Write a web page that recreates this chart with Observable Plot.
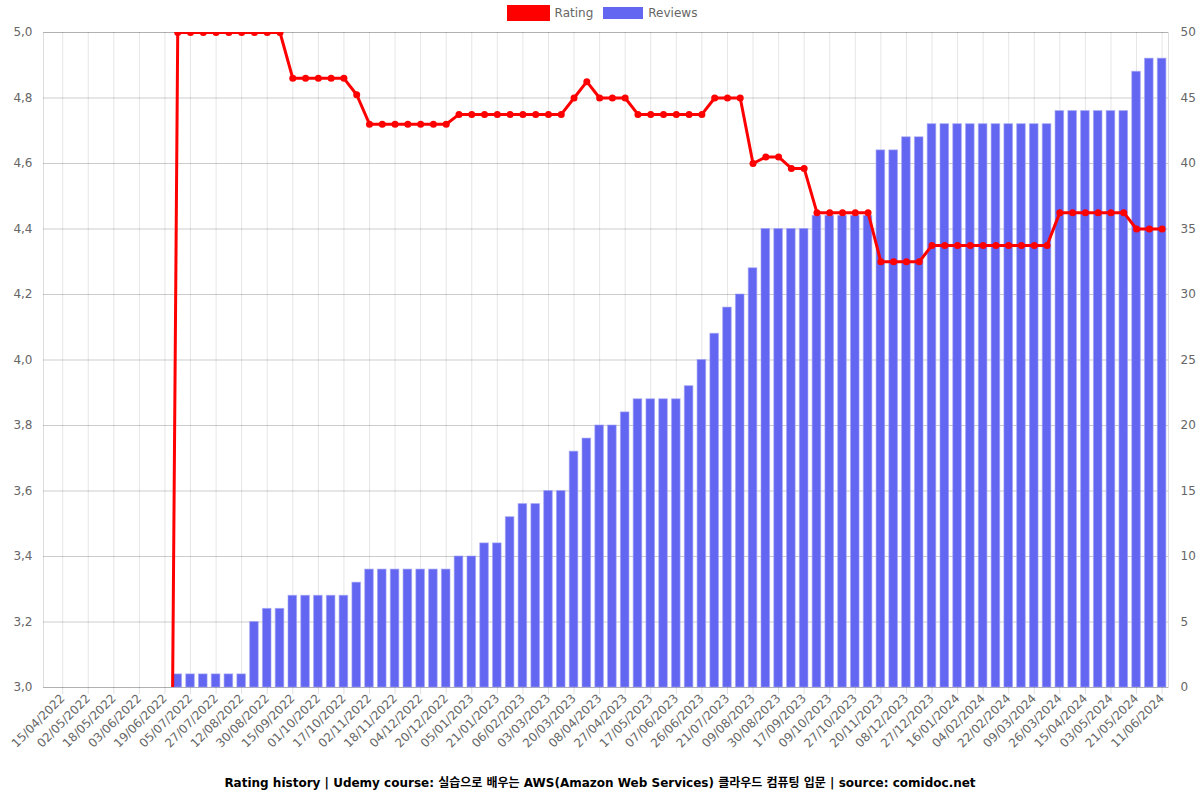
<!DOCTYPE html>
<html>
<head>
<meta charset="utf-8">
<script src="https://cdn.jsdelivr.net/npm/d3@7"></script>
<script src="https://cdn.jsdelivr.net/npm/@observablehq/plot@0.6"></script>
<style>
  html, body { margin: 0; padding: 0; background: #fff; }
  body { width: 1200px; height: 800px; overflow: hidden; font-family: "DejaVu Sans", "Noto Sans CJK KR", sans-serif; }
  #legend { height: 26px; display: flex; justify-content: center; align-items: center; font-size: 12px; color: #666; padding-left: 4px; box-sizing: border-box; }
  #legend .item { display: flex; align-items: center; margin: 0 5px; }
  #legend .sw { display: inline-block; width: 40px; height: 12px; margin-right: 5px; box-sizing: border-box; }
  #caption { height: 30px; line-height: 26px; text-align: center; font-weight: bold; font-size: 12px; color: #000; font-family: "DejaVu Sans", "Noto Sans CJK KR", sans-serif; }
  #chart svg { display: block; }
</style>
</head>
<body>
<div id="legend"></div>
<div id="chart"></div>
<div id="caption"></div>
<script>
// ---- data ----
const dates = [
  "07/04/2022","15/04/2022","23/04/2022","02/05/2022","10/05/2022","18/05/2022","26/05/2022","03/06/2022",
  "11/06/2022","19/06/2022","27/06/2022","05/07/2022","16/07/2022","27/07/2022","04/08/2022","12/08/2022",
  "21/08/2022","30/08/2022","07/09/2022","15/09/2022","23/09/2022","01/10/2022","09/10/2022","17/10/2022",
  "25/10/2022","02/11/2022","10/11/2022","18/11/2022","26/11/2022","04/12/2022","12/12/2022","20/12/2022",
  "28/12/2022","05/01/2023","13/01/2023","21/01/2023","29/01/2023","06/02/2023","18/02/2023","03/03/2023",
  "11/03/2023","20/03/2023","29/03/2023","08/04/2023","17/04/2023","27/04/2023","07/05/2023","17/05/2023",
  "27/05/2023","07/06/2023","16/06/2023","26/06/2023","08/07/2023","21/07/2023","30/07/2023","09/08/2023",
  "19/08/2023","30/08/2023","08/09/2023","17/09/2023","28/09/2023","09/10/2023","18/10/2023","27/10/2023",
  "08/11/2023","20/11/2023","29/11/2023","08/12/2023","17/12/2023","27/12/2023","06/01/2024","16/01/2024",
  "25/01/2024","04/02/2024","13/02/2024","22/02/2024","01/03/2024","09/03/2024","17/03/2024","26/03/2024",
  "05/04/2024","15/04/2024","24/04/2024","03/05/2024","12/05/2024","21/05/2024","31/05/2024","11/06/2024"
];

const tickLabels = [
  "15/04/2022","02/05/2022","18/05/2022","03/06/2022","19/06/2022","05/07/2022","27/07/2022","12/08/2022",
  "30/08/2022","15/09/2022","01/10/2022","17/10/2022","02/11/2022","18/11/2022","04/12/2022","20/12/2022",
  "05/01/2023","21/01/2023","06/02/2023","03/03/2023","20/03/2023","08/04/2023","27/04/2023","17/05/2023",
  "07/06/2023","26/06/2023","21/07/2023","09/08/2023","30/08/2023","17/09/2023","09/10/2023","27/10/2023",
  "20/11/2023","08/12/2023","27/12/2023","16/01/2024","04/02/2024","22/02/2024","09/03/2024","26/03/2024",
  "15/04/2024","03/05/2024","21/05/2024","11/06/2024"
];

const ratings = [
  0,0,0,0,0,0,0,0,0,0,
  5,5,5,5,5,5,5,5,5,
  4.86,4.86,4.86,4.86,4.86,
  4.81,
  4.72,4.72,4.72,4.72,4.72,4.72,4.72,
  4.75,4.75,4.75,4.75,4.75,4.75,4.75,4.75,4.75,
  4.8,4.85,
  4.8,4.8,4.8,
  4.75,4.75,4.75,4.75,4.75,4.75,
  4.8,4.8,4.8,
  4.6,4.62,4.62,4.585,4.585,
  4.45,4.45,4.45,4.45,4.45,
  4.3,4.3,4.3,4.3,
  4.35,4.35,4.35,4.35,4.35,4.35,4.35,4.35,4.35,4.35,
  4.45,4.45,4.45,4.45,4.45,4.45,
  4.4,4.4,4.4
];

const reviews = [
  0,0,0,0,0,0,0,0,0,0,
  1,1,1,1,1,1,
  5,6,6,
  7,7,7,7,7,
  8,
  9,9,9,9,9,9,9,
  10,10,11,11,13,14,14,15,15,
  18,19,20,20,21,
  22,22,22,22,23,25,27,29,30,32,
  35,35,35,35,
  36,36,36,36,36,
  41,41,42,42,
  43,43,43,43,43,43,43,43,43,43,
  44,44,44,44,44,44,
  47,48,48
];

const ratingTicks = [3.0,3.2,3.4,3.6,3.8,4.0,4.2,4.4,4.6,4.8,5.0];
const reviewTicks = [0,5,10,15,20,25,30,35,40,45,50];

const title = "Rating history | Udemy course: 실습으로 배우는 AWS(Amazon Web Services) 클라우드 컴퓨팅 입문 | source: comidoc.net";
const seriesNames = ["Rating", "Reviews"];
const colors = { rating: "#ff0000", reviews: "#6366f1" };

// ---- build ----
const data = dates.map((d, i) => ({ date: d, rating: ratings[i], reviews: reviews[i] }));
// right axis (reviews 0–50) shares the vertical extent of the left axis (rating 3–5)
const revToY = r => 3 + r * (5 - 3) / 50;

const legend = document.getElementById("legend");
legend.innerHTML = `
  <span class="item"><span class="sw" style="background:${colors.rating};border:2px solid rgba(255,0,0,0.55);height:16px;width:43px"></span>${seriesNames[0]}</span>
  <span class="item"><span class="sw" style="background:${colors.reviews};border:1px solid rgba(99,102,241,0.45)"></span>${seriesNames[1]}</span>`;
document.getElementById("caption").textContent = title;

const chart = Plot.plot({
  width: 1200,
  height: 744,
  marginTop: 6,
  marginBottom: 83,
  marginLeft: 43,
  marginRight: 32,
  style: { fontFamily: "DejaVu Sans, sans-serif", fontSize: "12px", background: "#fff", overflow: "visible" },
  x: { type: "band", domain: dates, paddingInner: 0.33, paddingOuter: 0.165, label: null },
  y: { domain: [3, 5], label: null },
  marks: [
    Plot.ruleX(tickLabels, { x: d => d, stroke: "#000", strokeOpacity: 0.1 }),
    Plot.ruleY(ratingTicks, { stroke: "#000", strokeOpacity: 0.2 }),
    Plot.frame({ stroke: "#000", strokeOpacity: 0.13 }),
    Plot.barY(data.filter(d => d.reviews > 0), {
      x: "date", y1: 3, y2: d => revToY(d.reviews),
      fill: colors.reviews, stroke: "#9ea0f5", strokeWidth: 1, strokeOpacity: 0.6
    }),
    Plot.line(data, { x: "date", y: "rating", stroke: colors.rating, strokeWidth: 3, clip: true }),
    Plot.dot(data, { x: "date", y: "rating", r: 3.5, fill: colors.rating, stroke: "none", clip: true }),
    Plot.axisY(ratingTicks, {
      anchor: "left", tickSize: 0, tickPadding: 11, color: "#666", label: null,
      tickFormat: d => d.toFixed(1).replace(".", ",")
    }),
    Plot.axisY(reviewTicks.map(revToY), {
      anchor: "right", tickSize: 0, tickPadding: 12, color: "#666", label: null,
      tickFormat: d => String(reviewTicks[Math.round((d - 3) * 5)])
    }),
    Plot.axisX(tickLabels, {
      anchor: "bottom", tickSize: 7, tickPadding: 2, tickRotate: -45,
      stroke: "#000", strokeOpacity: 0.13, fill: "#666", label: null
    })
  ]
});
document.getElementById("chart").appendChild(chart);
</script>
</body>
</html>
